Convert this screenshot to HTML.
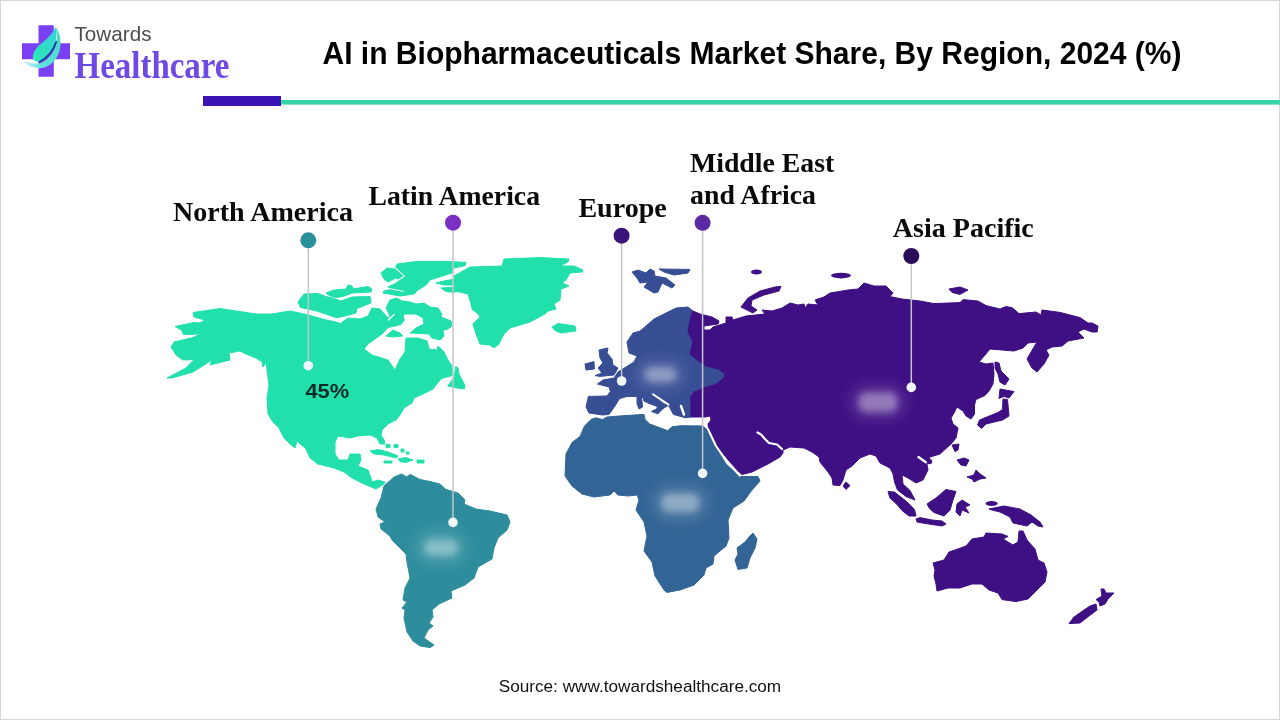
<!DOCTYPE html>
<html lang="en"><head><meta charset="utf-8"><title>AI in Biopharmaceuticals Market Share, By Region, 2024 (%)</title>
<style>
html,body{margin:0;padding:0;background:#fff;}
body{width:1280px;height:720px;overflow:hidden;position:relative;}
svg{position:absolute;left:0;top:0;display:block;}
.sans{font-family:"Liberation Sans",sans-serif;}
.serif{font-family:"Liberation Serif",serif;}
</style></head>
<body>
<svg width="1280" height="720" viewBox="0 0 1280 720">
<defs>
<filter id="blur" x="-50%" y="-100%" width="200%" height="300%"><feGaussianBlur stdDeviation="3.8"/></filter>
<filter id="blur2" x="-50%" y="-100%" width="200%" height="300%"><feGaussianBlur stdDeviation="6.5"/></filter>
<linearGradient id="gLeaf" x1="0" y1="1" x2="1" y2="0"><stop offset="0" stop-color="#2ee8b6"/><stop offset="1" stop-color="#33d2d6"/></linearGradient>
<linearGradient id="gSwoosh" gradientUnits="userSpaceOnUse" x1="22" y1="60" x2="60" y2="40"><stop offset="0" stop-color="#c9f2fa"/><stop offset="0.35" stop-color="#5fe0dc"/><stop offset="1" stop-color="#49dccb"/></linearGradient>
</defs>
<rect x="0" y="0" width="1280" height="720" fill="#fff"/>
<rect x="0.5" y="0.5" width="1279" height="719" fill="none" stroke="#d6d6d6" stroke-width="1"/>
<!-- header rule -->
<rect x="281" y="100" width="999" height="4.6" fill="#35d5a6"/>
<rect x="203" y="96" width="78" height="10" fill="#3a14b5"/>
<!-- logo -->
<g>
<path d="M38.5,25.3 H53.8 V43.2 H70 V59.3 H53.8 V76.7 H38.5 V59.3 H22 V43.2 H38.5 Z" fill="#7c40f4"/>
<path d="M55.4,26.7 C60.4,33 61.6,42 59.6,50.5 C57,61 48,68.2 40,68.2 C32,68.2 26,64.8 22.6,60.8 C28,63.2 34,64.2 40,63.2 C48,60.6 54.5,52 56.4,43 C57.2,37 56.6,31 55.4,26.7 Z" fill="url(#gSwoosh)"/>
<path d="M55.4,26.7 C52,36 44,41 39.9,44.6 C35,49 32,55 33,58.6 C34,61.4 37,62.2 39.6,61.6 C46,58.2 53,50 55.5,42 C56.6,37 56.5,31 55.4,26.7 Z" fill="url(#gLeaf)"/>
<path d="M39.2,62 C47,58.6 54,50 56.3,41.5" fill="none" stroke="#233b9c" stroke-width="1.7" stroke-linecap="round"/>
</g>
<text class="sans" x="74.5" y="41" font-size="21" fill="#4d4d4d" textLength="77" lengthAdjust="spacingAndGlyphs">Towards</text>
<text class="serif" x="74.5" y="78" font-size="37" font-weight="700" fill="#6f48e6" textLength="155" lengthAdjust="spacingAndGlyphs">Healthcare</text>
<!-- title -->
<text class="sans" x="322.5" y="64" font-size="30.6" font-weight="700" fill="#000" textLength="859" lengthAdjust="spacingAndGlyphs">AI in Biopharmaceuticals Market Share, By Region, 2024 (%)</text>
<!-- map -->
<path d="M167,378 L186,368 L194,359.5 L183,360 L176.5,355.5 L171,347 L174,342 L193,337.5 L200,334 L183.5,334.5 L181.5,330 L175,326.5 L194,322.5 L200,323 L205,320 L194,317 L193,312.5 L220,308.5 L256,314 L272,314 L290,311 L300,313 L312,316 L324,319.5 L336,322 L340.5,323.5 L348,318 L360,319 L368,316 L372,308 L380,309 L388,318 L393,315 L402,314.5 L404.5,320 L401,324.5 L388,327.5 L382,334 L368,344 L364,349 L372,355 L388,360 L395,370 L400,359 L405,352 L406,338 L418,338 L427,341 L429,349 L437,350 L438,346 L444,352 L448,360 L452,366 L452.3,375.5 L441.5,378.5 L436,385 L433,389 L425,393 L414.4,397.8 L412,403 L404,408 L400,415 L396,420 L388,424 L382,430 L381,435 L384,440 L385,444 L380,444 L377,438 L370,435 L358,436 L350,438 L338,436 L335,442 L335,454 L339,460 L348,460 L350,454 L360,454 L361,460 L358,466 L368,470 L371,478 L372,482 L378,480 L385,482 L384,484 L376,489 L364,484 L352,478 L344,472 L334,468 L318,464 L310,458 L306,449 L297,441 L295,448 L290,444 L284,438 L279,428 L273,422 L268,414 L267,398 L269,386 L267,370 L266,363 L263,367 L262,362 L256,358 L247,354.5 L240,351 L229,353 L230,360 L210,365 L212,360 L193,372 L172,378Z M298,302 L304,294 L318,293.5 L326,296.5 L334,298.5 L341,301 L352,297 L370,296.5 L371,303 L357,308.5 L356,313 L341,317 L336,317.5 L327,314.5 L316.5,311 L300.5,307.5Z M326,293 L334,290 L346,289 L348,285 L352,286 L353,289 L368,286.5 L372,289 L371,292 L362,292.5 L352,293 L343,296.5 L336,297.5 L330,296Z M381,273 L387,268 L395,269 L397,264 L416,261.6 L452,261.6 L466,262.4 L465,265.6 L454,268 L452,273 L430,280 L426,285 L418,290 L414,294 L400,296 L383,293 L384,291 L392,289 L388,287 L394,284 L400,280 L396,278 L388,282 L384,279Z M436,283 L444,281 L455,279 L455,285 L444,285Z M441,288 L455,287 L455,292.4 L446,291.6Z M386,308 L390,300 L397,298 L402,301 L410,302 L416,304 L424,303 L430,307 L438,308 L442,314 L441,317 L451,321 L452,326 L448,329 L443,330 L444,336 L440,340 L432,338 L429,334 L410,333 L416,328 L424,324 L423,318 L416,314 L404,314 L402,320 L392,322 L390,316Z M386,336 L393,330 L400,333 L403,336 L392,337Z M454,276 L470,267 L502,266 L504,259 L540,257.6 L569,259 L568,262 L560,266 L574,266 L583,270 L582,272 L570,273 L566,280 L562,283 L569,286 L561,289 L560,300 L554,304 L556,309 L548,311 L545,314 L530,322 L510,328 L504,334 L499,344 L494,348 L490,345 L480,344 L476,334 L473,324 L480,317 L478,314 L472,309 L471,304 L468,294 L455,291Z M552,327 L558,323.5 L575,326 L576,331 L561,333 L555,330.5Z M455.5,366.7 L458,367.8 L459,374 L465,385.5 L464.4,389 L456,387.8 L447.8,386 L454.4,376.7Z M370,451 L378,449.6 L388,452 L398,456 L396,458 L384,455 L374,454Z M386,444.4 L390,444.4 L390,447.6 L386,447.6Z M394,444.4 L398,444.4 L398,447.6 L394,447.6Z M401,449 L404,449 L404,452 L401,452Z M406,452 L409,452 L409,454 L406,454Z M384,461 L392,461 L392,463 L384,463Z M398,459 L406,457.6 L413,460 L406,462.4 L400,461.6Z M417,460 L424,460 L424,463 L417,463Z" fill="#22e0ac" stroke="#22e0ac" stroke-width="1" stroke-linejoin="round" />
<path d="M401.5,474 L406.5,476.8 L410.5,474.5 L420,479.5 L430,481.5 L440,484 L446,489.5 L458,493 L465,500 L464,504 L476,509 L490,511 L507,515 L510,522 L507,530 L498,538 L494,548 L492,559 L478,567 L474,578 L465,585 L451,591 L452,598 L439,604 L432,610 L433,617 L429,623 L433,626 L428,630 L424,638 L434,645 L430,647.6 L420,646 L413,641 L407,632 L404,618 L405,610 L402,608 L407,602 L403,600 L405,588 L410,578 L407,562 L406,554 L400,548 L392,540 L390,536 L381,529 L380,524 L385,522 L378,517 L376,509 L381,498 L384,486 L394,477Z" fill="#2d8d9d" stroke="#2d8d9d" stroke-width="1" stroke-linejoin="round" />
<path d="M584.5,426 L591,419.5 L595.7,417.8 L602.5,419.5 L607,417 L625,415.6 L644,414.4 L645,419.5 L649.7,424 L667.7,430.7 L672,426.8 L681,425.7 L702.6,426 L707,429.6 L714,444 L720,454 L726,464 L734,471 L740,476.5 L758,476.5 L760,481 L752,490 L744,501 L733,508 L728,520 L729,538 L726,546 L714,556 L713,564 L706,568 L704,575 L700,579 L694,585 L680,590 L667,592.4 L664,590 L655,576 L652,562 L644,551 L647,536 L644,522 L636,510 L639,500 L637,495 L628,496 L618,495 L614,491 L610,495 L594,497 L582,494 L572,486 L565,476 L566,454 L572,442.5 L580,436.5Z M753,533 L757,539 L755,548 L750,558 L747,568 L738,569.4 L735,560 L738,554 L737,548 L745,542 L749,537Z" fill="#326595" stroke="#326595" stroke-width="1" stroke-linejoin="round" />
<path d="M676,308 L688,307 L693,311 L690,320 L688,332 L693,342 L690,354 L696,359 L706,366 L718,369 L725,374 L724,378 L715,384.6 L703.7,388 L693.6,392.5 L690.8,397 L691,406 L691,417 L685.7,417.8 L679,416 L673.4,414.4 L668.9,406 L654,396 L644,398 L637.4,396.4 L627,396.4 L619.4,398.7 L615,406 L609,414.4 L602.5,415 L589,413 L586,407 L588.4,396.4 L607,396 L610.4,391.4 L609,387 L597.4,384 L603,380 L614,378 L618,372 L626,367 L634,362 L637,356 L629,353 L627,342 L633,333 L640,331 L646,326 L654,319 L664,314Z M643,397 L652,393.5 L655,396.5 L663,403.5 L668,405.5 L664,408 L661.5,410 L658,413.8 L651.5,411.5 L656.6,408.8 L657.5,406.5 L649,403.5 L644,401Z M637,396.4 L641.5,397 L642.6,407 L639,409 L637,403.7Z M599,350 L608,348 L607,353 L612,359 L613,365 L618,368 L614,375 L600,376.4 L595,375.6 L602,373 L598,368 L603,363 L600,358Z M585,364 L594,361.6 L594.4,369 L586,370Z M632,272 L638,270 L646,273 L650,269 L654,271 L655,276 L666,278 L675,285 L672,288 L662,283 L658,292 L654,293 L644,287 L648,282 L640,283 L637,278Z M659,269 L690,269.4 L688,273 L674,275 L664,272Z" fill="#374e95" stroke="#374e95" stroke-width="1" stroke-linejoin="round" />
<path d="M693,311 L700,314 L712,317 L719,321 L718,324 L704,326 L704,330 L710,330 L713,327 L726,323 L726,317 L732,317 L733,320 L746,316 L765,314 L762,310 L772,311 L782,308 L790,303 L798,305 L804,304 L805,308 L808,304 L818,305 L815,300 L824,297 L830,293 L848,290 L858,289 L864,283 L874,286 L886,286 L893,293 L890,296.6 L902,299 L920,301 L934,303.6 L960,302.6 L963,299.6 L978,301 L986,305.6 L1000,309 L1006,306.6 L1012,307.6 L1019,313.6 L1036,312 L1041,315 L1042,310 L1060,312.4 L1080,317.6 L1088,323 L1092,323 L1098,326 L1097,332 L1092,332 L1084,329 L1078,332 L1084,338 L1068,341 L1062,346 L1052,347 L1046,350 L1049,355 L1044,364 L1037,372 L1032,368 L1027,359 L1034,347 L1037,342 L1028,343 L1023,348 L1014,351 L990,349 L985,355 L979,362 L986,364 L993,363 L994,374 L993,384 L989,391 L985,395.5 L976,399.5 L974.5,405 L974.5,414 L971,419 L966,416 L963,411 L957,407 L954,413 L951,418 L953,424 L958,428 L956,438 L951,444 L940,454 L930,457 L927,464 L928,470 L923,480 L916,483 L908,478 L902,475 L903,484 L910,490.5 L915,500 L906,496.5 L897.5,490 L894.5,482 L893,474 L890,468 L880,463 L876,456 L870,454 L860,458 L852,466 L846,470 L843,480 L840,485.6 L833,485 L832,478 L828,472 L820,462 L819,457 L812,452 L804,448 L790,447 L783,450 L783,453 L780,457 L768,464 L752,472 L742,474.5 L738,471 L730,462 L718,448 L709,430 L708,424 L711,420 L710,416 L705,417 L691,417 L691,406 L690.8,397 L693.6,392.5 L703.7,388 L715,384.6 L724,378 L725,374 L718,369 L706,366 L696,359 L690,354 L693,342 L688,332 L690,320Z M741,307 L748,298 L760,291 L775,287 L781,286.4 L779,291 L764,295 L752,300 L751,306 L757,310 L753,313Z M949,289 L960,287 L968,290 L960,294.4 L952,292.4Z M995,362 L999,363 L1001,371 L1009,379 L1005,385 L1000,382 L998,374 L995,368Z M1000,389 L1014,391.6 L1009,398 L1004,396.4 L999,398.4Z M1003,399 L1007.5,399.5 L1009,416 L1002.5,420 L986,424 L981.5,428.5 L977.5,425 L979.5,420 L998,412.5 L1002.5,409.5Z M952,445 L959,444 L958,450 L955,451.6Z M957,460 L964,458 L969,460 L966,466 L961,465Z M967,477 L974,475 L976,470 L980,474 L986,478 L980,479 L974,482 L972,479Z M927,504 L936,498 L946,489.5 L956,491.5 L953,500 L950,510 L944,516 L934,512.5 L929.5,508.5Z M957,504 L962,500 L970,505 L965,507 L969,513 L962,510 L960,516 L956,512Z M888,491.5 L894.5,492 L906.5,501.5 L914.5,509.5 L916,516 L909,516 L902,510.5 L897,504.5 L890,498Z M916,519 L920,517.6 L932,520 L942,521 L946,524 L942,526 L926,523.6 L917,522Z M989,509 L1004,506 L1020,509 L1031,515 L1040,522 L1043,527 L1038,526 L1032,522 L1027,526 L1013,523 L1010,517 L1000,512 L992,510Z M933,563 L944,560 L949,552 L955,550 L966,546 L972,539 L984,537 L986,533 L1002,534 L1008,536.4 L1003,539 L1013,545 L1018,542 L1019,531 L1023,531 L1027,540 L1035,549 L1038,560 L1044,563 L1047,572 L1045,582 L1036,591 L1028,599 L1016,601.6 L1002,599.6 L998,593 L989,590 L982,584 L972,584 L960,588 L948,588 L937,591 L936,584 L934,576 L935,570Z M1101,589 L1104,589 L1106,593 L1114,593 L1108,599 L1105,604 L1100,606 L1099,602 L1096,599.6 L1102,596Z M1096,604 L1097,610 L1089,616 L1080,623 L1069,623.6 L1074,617 L1084,610 L1090,606Z M843,486 L846,482 L850,485.6 L846,489.4Z" fill="#3f0f84" stroke="#3f0f84" stroke-width="1" stroke-linejoin="round" />
<ellipse cx="756.4" cy="272" rx="5.5" ry="2.5" fill="#3f0f84"/>
<ellipse cx="841" cy="275.6" rx="10" ry="2.8" fill="#3f0f84"/>
<ellipse cx="991.6" cy="503.4" rx="6" ry="2.5" fill="#3f0f84"/>
<ellipse cx="929.6" cy="461.6" rx="2.6" ry="2.6" fill="#3f0f84"/>
<path d="M757.5,432.5 L761,434.5 L765,439 L769,443 L777,444.5 L782,449" fill="none" stroke="#fff" stroke-width="2.2" stroke-linecap="round" stroke-linejoin="round"/>
<path d="M708,429 L716,446 L728,463 L740,475.8" fill="none" stroke="#fff" stroke-width="2.0" stroke-linecap="round" stroke-linejoin="round"/>
<path d="M653,394.3 L668.5,404.6" fill="none" stroke="#fff" stroke-width="1.9" stroke-linecap="round" stroke-linejoin="round"/>
<path d="M681,406 L684,414.5" fill="none" stroke="#fff" stroke-width="2.5" stroke-linecap="round" stroke-linejoin="round"/>
<path d="M388.5,320 L394,314.5" fill="none" stroke="#fff" stroke-width="1.5" stroke-linecap="round" stroke-linejoin="round"/>
<path d="M394.9,267.6 L400.9,272.9 L404.2,276.2 L396.2,281.6 L392.3,283.6" fill="none" stroke="#fff" stroke-width="1.1" stroke-linecap="round" stroke-linejoin="round"/>
<path d="M389,288.5 L397,290 L404,291.5" fill="none" stroke="#fff" stroke-width="0.9" stroke-linecap="round" stroke-linejoin="round"/>
<path d="M918.5,457 L925.8,462.3" fill="none" stroke="#fff" stroke-width="2.4" stroke-linecap="round" stroke-linejoin="round"/>
<rect x="414.0" y="530.0" width="54" height="35" rx="17.5" fill="#fff" opacity="0.11" filter="url(#blur2)"/>
<rect x="424.0" y="539.0" width="34" height="17" rx="8" fill="#fff" opacity="0.35" filter="url(#blur)"/>
<rect x="634.5" y="358.0" width="52" height="33" rx="16.5" fill="#fff" opacity="0.11" filter="url(#blur2)"/>
<rect x="644.5" y="367.0" width="32" height="15" rx="8" fill="#fff" opacity="0.37" filter="url(#blur)"/>
<rect x="651.3" y="484.2" width="58" height="37" rx="18.5" fill="#fff" opacity="0.11" filter="url(#blur2)"/>
<rect x="661.3" y="493.2" width="38" height="19" rx="8" fill="#fff" opacity="0.38" filter="url(#blur)"/>
<rect x="848.5" y="383.3" width="59" height="38" rx="19.0" fill="#fff" opacity="0.11" filter="url(#blur2)"/>
<rect x="858.5" y="392.3" width="39" height="20" rx="8" fill="#fff" opacity="0.37" filter="url(#blur)"/>
<line x1="308.3" y1="240.3" x2="308.3" y2="365.7" stroke="#c4c4c8" stroke-width="1.5"/>
<circle cx="308.3" cy="240.3" r="8" fill="#2b8f9c"/>
<circle cx="308.3" cy="365.7" r="4.8" fill="#f1f6fb"/>
<line x1="453.0" y1="222.7" x2="453.0" y2="522.4" stroke="#c4c4c8" stroke-width="1.5"/>
<circle cx="453.0" cy="222.7" r="8" fill="#7a2fc2"/>
<circle cx="453.0" cy="522.4" r="4.8" fill="#f1f6fb"/>
<line x1="621.6" y1="235.7" x2="621.6" y2="381" stroke="#c4c4c8" stroke-width="1.5"/>
<circle cx="621.6" cy="235.7" r="8" fill="#3a1478"/>
<circle cx="621.6" cy="381" r="4.8" fill="#f1f6fb"/>
<line x1="702.6" y1="222.8" x2="702.6" y2="473.4" stroke="#c4c4c8" stroke-width="1.5"/>
<circle cx="702.6" cy="222.8" r="8" fill="#5b2aa2"/>
<circle cx="702.6" cy="473.4" r="4.8" fill="#f1f6fb"/>
<line x1="911.3" y1="256" x2="911.3" y2="387.4" stroke="#c4c4c8" stroke-width="1.5"/>
<circle cx="911.3" cy="256" r="8" fill="#2a0b5c"/>
<circle cx="911.3" cy="387.4" r="4.8" fill="#f1f6fb"/>
<!-- labels -->
<g class="serif" font-weight="700" font-size="27.5" fill="#0a0a0a">
<text x="173" y="220.6" textLength="180" lengthAdjust="spacingAndGlyphs">North America</text>
<text x="368.5" y="205.3" textLength="171.5" lengthAdjust="spacingAndGlyphs">Latin America</text>
<text x="578.4" y="217.3" textLength="88.4" lengthAdjust="spacingAndGlyphs">Europe</text>
<text x="690" y="172" textLength="144.2" lengthAdjust="spacingAndGlyphs">Middle East</text>
<text x="690" y="203.7" textLength="126" lengthAdjust="spacingAndGlyphs">and Africa</text>
<text x="892.8" y="236.5" textLength="141" lengthAdjust="spacingAndGlyphs">Asia Pacific</text>
</g>
<text class="sans" x="305.4" y="398.3" font-size="21" font-weight="700" fill="#0b2a27" textLength="43.8" lengthAdjust="spacingAndGlyphs">45%</text>
<text class="sans" x="498.7" y="691.5" font-size="16" fill="#111" textLength="282.5" lengthAdjust="spacingAndGlyphs">Source: www.towardshealthcare.com</text>
</svg>
</body></html>
